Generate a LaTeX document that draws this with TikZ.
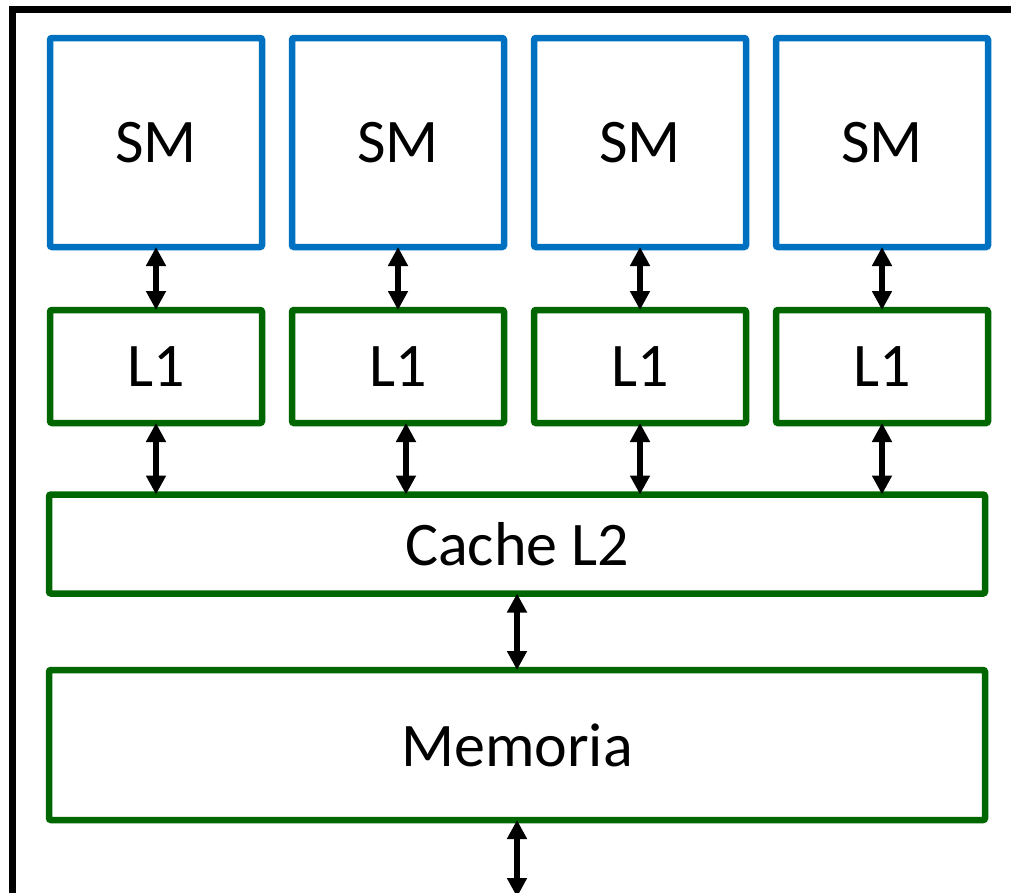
\documentclass[tikz,border=0pt]{standalone}
\usepackage{fontspec}
\setmainfont{Carlito}
\usepackage{tikz}
\usetikzlibrary{positioning, arrows.meta}
\definecolor{smblue}{RGB}{0,112,192}
\definecolor{cachegreen}{RGB}{0,102,0}

\begin{document}
\begin{tikzpicture}[
    x=1pt, y=-1pt,
    >={Triangle[length=19pt,width=19pt]},
    node distance=63pt and 30pt,
    smbox/.style={draw=smblue, line width=6.5pt, rounded corners=2pt,
                  minimum width=212pt, minimum height=209pt, outer sep=0pt,
                  font=\fontsize{62}{74}\selectfont, fill=white},
    cbox/.style={draw=cachegreen, line width=6.5pt, rounded corners=2pt,
                 minimum width=212pt, minimum height=113pt, outer sep=0pt,
                 font=\fontsize{62}{74}\selectfont, fill=white},
    link/.style={<->, line width=5.5pt},
]
\useasboundingbox (0,0) rectangle (1011,892);
\fill[white] (0,0) rectangle (1011,892);
\clip (0,0) rectangle (1011,892);
% outer frame, cut off at the right and bottom
\draw[line width=6.5pt] (12.5,9.5) rectangle (1040,930);

\node[smbox] (sm1) at (156,142.5) {SM};
\node[smbox, right=of sm1] (sm2) {SM};
\node[smbox, right=of sm2] (sm3) {SM};
\node[smbox, right=of sm3] (sm4) {SM};
\foreach \i in {1,...,4}
    \node[cbox, below=of sm\i] (l1\i) {L1};
\node[cbox, minimum width=936pt, minimum height=99pt] (l2) at (517,544) {Cache L2};
\node[cbox, minimum width=936pt, minimum height=150pt] (mem) at (517,745) {Memoria};
\coordinate (out) at (517,897);

\foreach \i/\dx in {1/0, 2/8, 3/0, 4/0} {
    \draw[link] (sm\i) -- (l1\i);
    \draw[link] ([xshift=\dx]l1\i.south) -- ([xshift=\dx]l1\i.south |- l2.north);
}
\draw[link] (l2) -- (mem);
\draw[link] (mem) -- (out);
\end{tikzpicture}
\end{document}
